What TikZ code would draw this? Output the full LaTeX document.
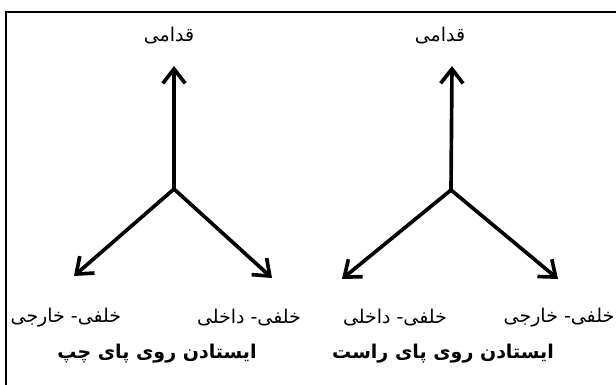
\documentclass[tikz,border=0pt]{standalone}
\usepackage{fontspec}
\newfontfamily\farsi[Script=Arabic]{DejaVu Sans}
\TeXXeTstate=1
\usetikzlibrary{arrows.meta}

\tikzset{
  axis/.style={line width=2.6pt, -{Straight Barb[length=3.6mm, width=5.6mm, line width=2.6pt]}},
  dirlabel/.style={font=\farsi\fontsize{13.5}{16}\selectfont, inner sep=1pt},
  footlabel/.style={font=\farsi\bfseries\fontsize{13.5}{16}\selectfont, inner sep=1pt}
}

\begin{document}
\begin{tikzpicture}[x=0.025cm, y=-0.025cm]

% --- Frame (top and left only) ---
\useasboundingbox (0,0) rectangle (616,385);
\draw[line width=1.4pt] (6,385) -- (6,12) -- (616,12);

% --- Left foot ---
\coordinate (lc) at (174,189);
\coordinate (lf) at (174,66);
\coordinate (lbl) at (74,276);
\coordinate (lbr) at (272,278);
\draw[axis] (lc) -- (lf);
\draw[axis] (lc) -- (lbl);
\draw[axis] (lc) -- (lbr);
\node[dirlabel] (lfront) at (169,36) {\beginR قدامی\endR};
\node[dirlabel, anchor=west] (lout) at (9,318) {\beginR خلفی- خارجی\endR};
\node[dirlabel] (lin) at (249,318) {\beginR خلفی- داخلی\endR};
\node[footlabel] (lname) at (157,354) {\beginR ایستادن روی پای چپ\endR};

% --- Right foot ---
\coordinate (rc) at (451,190);
\coordinate (rf) at (452,66);
\coordinate (rbl) at (342,279);
\coordinate (rbr) at (558,279);
\draw[axis] (rc) -- (rf);
\draw[axis] (rc) -- (rbl);
\draw[axis] (rc) -- (rbr);
\node[dirlabel] (rfront) at (440,36) {\beginR قدامی\endR};
\node[dirlabel] (rin) at (395,318) {\beginR خلفی- داخلی\endR};
\node[dirlabel, anchor=east] (rout) at (616,318) {\beginR خلفی- خارجی\endR};
\node[footlabel] (rname) at (443,354) {\beginR ایستادن روی پای راست\endR};

\end{tikzpicture}
\end{document}
